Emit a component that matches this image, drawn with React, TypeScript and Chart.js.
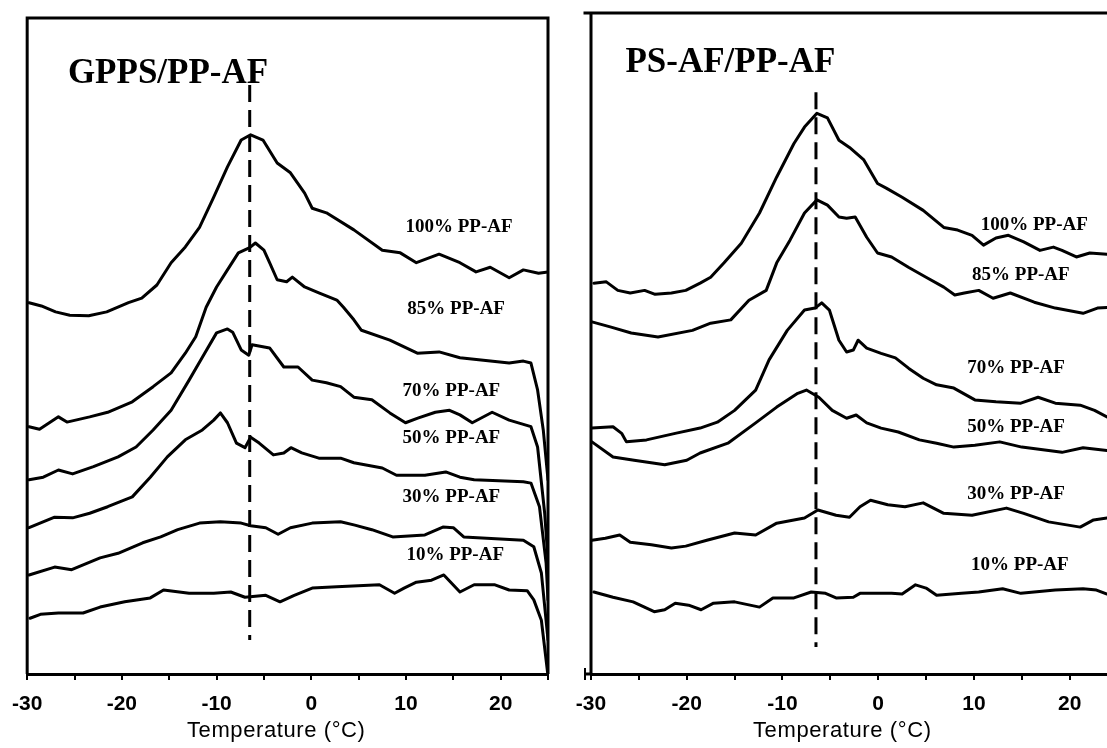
import React, { useEffect, useRef } from 'react';
import { Chart, registerables } from 'chart.js';

Chart.register(...registerables);

// ---------- Shared ----------
const seriesNames = ['100% PP-AF', '85% PP-AF', '70% PP-AF', '50% PP-AF', '30% PP-AF', '10% PP-AF'];
const xTickValues = [-30, -20, -10, 0, 10, 20];
const axisTitle = 'Temperature (°C)';
const markerT = -6.5; // dashed reference line (°C)

// ---------- Left panel: GPPS/PP-AF ----------
const gpps100T = [-29.8, -28.5, -27.0, -25.5, -23.5, -21.6, -19.3, -17.9, -16.3, -14.8, -13.3, -11.8, -10.3, -8.85, -7.4, -6.4, -5.1, -3.6, -2.2, -0.7, 0.1, 1.6, 4.5, 7.5, 9.4, 11.1, 13.5, 15.7, 17.4, 18.9, 20.9, 22.4, 24.0, 25.0];
const gpps100Y = [56.6, 56.1, 55.2, 54.7, 54.6, 55.2, 56.6, 57.3, 59.3, 62.7, 65.1, 68.1, 72.7, 77.3, 81.4, 82.2, 81.4, 77.9, 76.4, 73.3, 71.0, 70.3, 67.7, 64.6, 64.2, 62.7, 64.0, 62.7, 61.3, 62.0, 60.4, 61.6, 61.1, 61.3];

const gpps85T = [-29.8, -28.7, -26.7, -25.8, -23.4, -21.5, -18.9, -16.7, -14.8, -13.3, -12.2, -11.1, -10.0, -8.85, -7.7, -6.5, -5.9, -5.0, -4.4, -3.6, -2.6, -2.0, -0.7, 0.8, 2.7, 3.4, 4.5, 5.3, 8.3, 11.2, 13.5, 15.7, 20.9, 22.4, 23.2, 23.9, 24.5, 25.0];
const gpps85Y = [37.7, 37.3, 39.2, 38.4, 39.2, 39.9, 41.5, 43.8, 45.9, 48.9, 51.4, 55.9, 59.0, 61.6, 64.2, 65.0, 65.7, 64.6, 62.7, 60.1, 59.8, 60.5, 59.0, 58.1, 57.0, 55.9, 54.0, 52.4, 50.9, 48.9, 49.1, 48.2, 47.4, 47.7, 47.4, 43.3, 37.2, 29.6];

const gpps70T = [-29.8, -28.3, -26.7, -25.2, -23.0, -20.4, -18.5, -16.7, -14.8, -12.9, -11.5, -10.0, -8.85, -8.3, -7.4, -6.6, -6.25, -4.4, -2.9, -1.4, 0.1, 1.6, 3.1, 4.5, 6.4, 8.3, 9.95, 11.25, 13.1, 14.6, 15.7, 17.0, 19.1, 20.9, 23.2, 23.9, 24.65, 25.0];
const gpps70Y = [29.6, 30.0, 31.1, 30.5, 31.6, 33.1, 34.6, 37.2, 40.2, 44.8, 48.3, 52.0, 52.6, 52.1, 49.4, 48.6, 50.2, 49.7, 46.8, 46.8, 44.8, 44.4, 43.8, 42.2, 41.8, 39.8, 38.3, 39.0, 39.9, 40.2, 39.5, 38.3, 39.9, 38.7, 37.7, 34.6, 24.5, 17.4];

const gpps50T = [-29.8, -27.1, -25.2, -23.4, -21.5, -18.9, -17.0, -15.2, -13.3, -11.5, -10.3, -9.6, -8.85, -7.9, -7.0, -6.4, -5.5, -4.0, -2.9, -2.15, -1.0, 0.8, 3.1, 4.5, 7.5, 9.0, 12.0, 14.2, 15.7, 17.2, 22.4, 23.2, 24.1, 24.8, 25.0];
const gpps50Y = [22.3, 23.9, 23.8, 24.5, 25.5, 27.0, 30.0, 33.1, 35.7, 37.2, 38.7, 39.8, 38.3, 35.2, 34.5, 36.1, 35.2, 33.4, 33.7, 34.5, 33.7, 32.9, 32.9, 32.2, 31.4, 30.3, 30.3, 30.8, 30.0, 29.6, 29.3, 29.1, 25.5, 16.9, 11.3];

const gpps30T = [-29.8, -27.1, -25.3, -22.3, -20.4, -17.8, -15.9, -14.1, -11.8, -9.6, -7.4, -6.4, -4.8, -3.5, -2.2, 0.1, 3.1, 4.6, 6.4, 8.6, 12.0, 13.9, 15.0, 16.1, 22.4, 23.5, 24.3, 25.0];
const gpps30Y = [15.1, 16.3, 15.9, 17.7, 18.4, 20.0, 20.9, 22.0, 23.0, 23.2, 23.0, 22.6, 22.3, 21.3, 22.3, 23.0, 23.2, 22.7, 22.0, 20.9, 21.2, 22.4, 22.3, 20.9, 20.4, 19.4, 15.4, 5.2];

const gpps10T = [-29.7, -28.6, -26.7, -24.1, -22.3, -19.7, -17.0, -15.6, -12.9, -10.3, -8.5, -7.0, -4.8, -3.3, -1.8, 0.1, 2.7, 7.2, 8.8, 9.8, 11.1, 12.7, 14.0, 15.7, 17.2, 19.4, 20.9, 22.8, 23.5, 24.3, 24.95];
const gpps10Y = [8.5, 9.1, 9.3, 9.3, 10.2, 11.0, 11.6, 12.8, 12.3, 12.3, 12.5, 11.7, 12.0, 11.0, 12.0, 13.1, 13.3, 13.6, 12.3, 13.1, 14.0, 14.3, 15.1, 12.5, 13.6, 13.6, 12.8, 12.7, 11.3, 8.2, 0.3];

const gppsMarkerY = [89.8, 5.2];

// ---------- Right panel: PS-AF/PP-AF ----------
const ps100T = [-29.7, -28.4, -27.2, -25.9, -24.4, -23.3, -21.6, -20.1, -18.6, -17.5, -16.1, -14.3, -12.4, -10.6, -8.8, -7.7, -6.4, -5.3, -4.1, -3.0, -1.5, -0.07, 0.84, 2.5, 4.7, 6.85, 8.3, 9.8, 11.0, 12.3, 13.6, 15.2, 16.9, 18.3, 19.2, 20.7, 22.1, 23.9];
const ps100Y = [59.6, 59.8, 58.5, 58.1, 58.5, 57.9, 58.1, 58.5, 59.6, 60.5, 62.7, 65.7, 70.3, 75.8, 80.9, 83.4, 85.5, 84.8, 81.4, 80.3, 78.4, 74.8, 74.1, 72.7, 70.7, 68.1, 67.7, 66.9, 65.4, 66.5, 66.9, 65.9, 64.6, 65.1, 64.6, 63.6, 64.2, 64.0];

const ps85T = [-29.9, -27.9, -25.8, -23.0, -19.4, -17.5, -15.4, -13.5, -11.7, -10.6, -9.2, -7.7, -6.4, -5.3, -4.1, -3.3, -2.4, -1.2, -0.07, 1.4, 3.2, 5.0, 6.85, 8.0, 9.0, 10.5, 12.0, 13.8, 16.3, 18.5, 21.4, 22.9, 23.9];
const ps85Y = [53.7, 52.9, 52.0, 51.4, 52.4, 53.5, 54.0, 57.0, 58.5, 62.7, 66.2, 70.3, 72.3, 71.5, 69.7, 69.5, 69.7, 66.6, 64.2, 63.6, 62.0, 60.5, 59.0, 57.8, 58.1, 58.5, 57.3, 58.1, 56.7, 55.8, 55.0, 55.8, 55.9];

const ps70T = [-29.9, -27.7, -26.8, -26.3, -24.2, -21.2, -18.6, -16.8, -15.0, -12.8, -11.4, -9.5, -7.7, -6.6, -5.9, -5.1, -4.1, -3.3, -2.6, -2.1, -1.2, 0.3, 1.8, 3.2, 4.7, 6.1, 7.9, 10.1, 12.3, 14.9, 16.7, 18.5, 21.1, 22.6, 23.9];
const ps70Y = [37.5, 37.7, 36.7, 35.4, 35.7, 36.7, 37.5, 38.4, 40.2, 43.3, 47.9, 52.4, 55.5, 55.8, 56.6, 55.5, 50.9, 49.1, 49.4, 50.9, 49.7, 48.9, 48.2, 46.6, 45.1, 44.1, 43.6, 41.8, 41.5, 41.3, 42.2, 41.3, 41.0, 40.2, 39.2];

const ps50T = [-29.9, -27.7, -25.5, -22.3, -20.0, -18.6, -15.7, -12.8, -10.6, -8.4, -7.5, -6.2, -4.8, -3.3, -2.3, -1.2, 0.3, 2.1, 4.3, 6.1, 7.9, 10.1, 12.7, 15.0, 19.2, 21.4, 23.9];
const ps50Y = [35.4, 33.1, 32.6, 31.9, 32.6, 33.7, 35.2, 38.3, 40.7, 42.8, 43.3, 42.2, 40.2, 39.0, 39.5, 38.3, 37.5, 36.9, 35.7, 35.2, 34.6, 34.9, 35.4, 34.6, 33.8, 34.5, 34.1];

const ps30T = [-29.9, -28.5, -27.0, -25.9, -23.7, -21.6, -20.1, -17.9, -15.0, -12.8, -10.6, -7.7, -6.3, -4.4, -3.0, -1.9, -0.8, 1.0, 2.8, 4.7, 6.85, 9.8, 13.4, 15.2, 17.8, 21.1, 22.5, 23.9];
const ps30Y = [20.4, 20.7, 21.2, 20.1, 19.7, 19.2, 19.5, 20.4, 21.5, 21.2, 23.0, 23.8, 25.0, 24.2, 23.9, 25.5, 26.5, 25.8, 25.5, 26.1, 24.5, 24.2, 25.3, 24.5, 23.2, 22.4, 23.5, 23.8];

const ps10T = [-29.7, -27.7, -25.6, -23.4, -22.3, -21.2, -19.8, -18.5, -17.2, -15.0, -12.4, -11.0, -8.8, -7.0, -5.5, -4.4, -2.6, -1.9, 1.4, 2.5, 3.9, 5.0, 6.1, 8.7, 10.5, 13.0, 14.9, 18.5, 21.4, 22.8, 23.9];
const ps10Y = [12.5, 11.7, 11.0, 9.5, 9.8, 10.8, 10.5, 9.8, 10.8, 11.0, 10.2, 11.6, 11.6, 12.5, 12.3, 11.6, 11.7, 12.3, 12.3, 12.2, 13.6, 13.1, 12.0, 12.3, 12.5, 13.0, 12.3, 12.8, 13.0, 12.8, 12.2];

const psMarkerY = [88.7, 4.1];

// ---------- Panel configuration (layout / annotation placement) ----------
const leftPanel = {
  title: 'GPPS/PP-AF',
  titleAt: { x: -25.7, y: 90.1 },
  series: [
    [gpps100T, gpps100Y], [gpps85T, gpps85Y], [gpps70T, gpps70Y],
    [gpps50T, gpps50Y], [gpps30T, gpps30Y], [gpps10T, gpps10Y],
  ],
  markerY: gppsMarkerY,
  labelX: [15.6, 15.3, 14.8, 14.8, 14.8, 15.2],
  labelY: [68.1, 55.6, 43.1, 36.0, 27.0, 18.1],
  xMax: 25,
  yMax: 100,
  width: 560,
  left: 0,
  pad: { left: 27, top: 18, right: 7 },
  rightBorder: true,
  overhang: 0,
  axisTitleX: -3.7,
};

const rightPanel = {
  title: 'PS-AF/PP-AF',
  titleAt: { x: -26.4, y: 91.8 },
  series: [
    [ps100T, ps100Y], [ps85T, ps85Y], [ps70T, ps70Y],
    [ps50T, ps50Y], [ps30T, ps30Y], [ps10T, ps10Y],
  ],
  markerY: psMarkerY,
  labelX: [16.3, 14.9, 14.4, 14.4, 14.4, 14.8],
  labelY: [68.4, 60.8, 46.6, 37.7, 27.4, 16.6],
  xMax: 23.9,
  yMax: 100.8,
  width: 547,
  left: 560,
  pad: { left: 31, top: 13, right: 0 },
  rightBorder: false,
  overhang: 6,
  axisTitleX: -3.75,
};

const CANVAS_H = 748;
const AXIS_BAND = 74;

const decor = {
  id: 'panelDecor',
  afterDraw(chart: any, _args: any, opts: any) {
    const { ctx, chartArea: a, scales } = chart;
    const sx = scales.x;
    const sy = scales.y;
    ctx.save();
    ctx.strokeStyle = '#000';
    ctx.lineWidth = 3;
    ctx.lineCap = 'butt';
    ctx.beginPath();
    ctx.moveTo(a.left - opts.overhang - 1.5, a.top);
    ctx.lineTo(a.right + (opts.rightBorder ? 1.5 : 0), a.top);
    ctx.moveTo(a.left, a.top - 1.5);
    ctx.lineTo(a.left, a.bottom);
    if (opts.rightBorder) {
      ctx.moveTo(a.right, a.top - 1.5);
      ctx.lineTo(a.right, a.bottom);
    }
    if (opts.overhang > 0) {
      ctx.moveTo(a.left - opts.overhang, a.bottom);
      ctx.lineTo(a.left, a.bottom);
    }
    ctx.stroke();
    if (opts.overhang > 0) {
      ctx.lineWidth = 2;
      ctx.beginPath();
      ctx.moveTo(a.left - opts.overhang, a.bottom - 6);
      ctx.lineTo(a.left - opts.overhang, a.bottom + 6);
      ctx.stroke();
    }

    ctx.fillStyle = '#000';
    ctx.font = 'bold 35px "Liberation Serif", "Times New Roman", serif';
    ctx.textAlign = 'left';
    ctx.textBaseline = 'alphabetic';
    ctx.fillText(opts.title, sx.getPixelForValue(opts.titleAt.x), sy.getPixelForValue(opts.titleAt.y));

    ctx.font = 'bold 19px "Liberation Serif", "Times New Roman", serif';
    ctx.textAlign = 'center';
    ctx.textBaseline = 'middle';
    opts.names.forEach((n: string, i: number) => {
      ctx.fillText(n, sx.getPixelForValue(opts.labelX[i]), sy.getPixelForValue(opts.labelY[i]));
    });

    ctx.font = '22px "Liberation Sans", Arial, sans-serif';
    (ctx as any).letterSpacing = '0.6px';
    ctx.textAlign = 'center';
    ctx.textBaseline = 'middle';
    ctx.fillText(axisTitle, sx.getPixelForValue(opts.axisTitleX), a.bottom + 57);
    ctx.restore();
  },
};

function buildConfig(p: any): any {
  const datasets: any[] = p.series.map((s: number[][], k: number) => ({
    label: seriesNames[k],
    data: s[0].map((t: number, i: number) => ({ x: t, y: s[1][i] })),
    borderColor: '#000',
    borderWidth: 3,
    pointRadius: 0,
    tension: 0,
    fill: false,
    borderJoinStyle: 'round',
    borderCapStyle: 'round',
  }));
  datasets.push({
    label: 'marker',
    data: p.markerY.map((v: number) => ({ x: markerT, y: v })),
    borderColor: '#000',
    borderWidth: 3,
    borderDash: [17, 8],
    pointRadius: 0,
    fill: false,
  });
  return {
    type: 'line',
    data: { datasets },
    options: {
      responsive: false,
      animation: false,
      events: [],
      layout: { padding: { left: p.pad.left, top: p.pad.top, right: p.pad.right, bottom: 0 } },
      plugins: {
        legend: { display: false },
        tooltip: { enabled: false },
        panelDecor: {
          title: p.title,
          titleAt: p.titleAt,
          names: seriesNames,
          labelX: p.labelX,
          labelY: p.labelY,
          rightBorder: p.rightBorder,
          overhang: p.overhang,
          axisTitleX: p.axisTitleX,
        },
      },
      scales: {
        x: {
          type: 'linear',
          min: -30,
          max: p.xMax,
          afterBuildTicks: (s: any) => {
            s.ticks = s.ticks.filter((t: any) => Math.abs(t.value / 5 - Math.round(t.value / 5)) < 1e-6);
          },
          afterFit: (s: any) => {
            s.height = AXIS_BAND;
          },
          ticks: {
            stepSize: 5,
            includeBounds: false,
            autoSkip: false,
            maxRotation: 0,
            minRotation: 0,
            padding: 12,
            color: '#000',
            font: { family: '"Liberation Sans", Arial, sans-serif', size: 21, weight: 'bold' },
            callback: (v: any) => (xTickValues.includes(Number(v)) ? String(v) : ''),
          },
          grid: { drawOnChartArea: false, drawTicks: true, tickLength: 6, color: '#000', lineWidth: 2 },
          border: { display: true, color: '#000', width: 3 },
        },
        y: { type: 'linear', display: false, min: 0, max: p.yMax },
      },
    },
    plugins: [decor],
  };
}

function Panel({ cfg }: { cfg: any }) {
  const ref = useRef<HTMLCanvasElement | null>(null);
  useEffect(() => {
    if (!ref.current) return;
    const chart = new Chart(ref.current, buildConfig(cfg));
    return () => chart.destroy();
  }, [cfg]);
  return (
    <canvas
      ref={ref}
      width={cfg.width}
      height={CANVAS_H}
      style={{ position: 'absolute', left: cfg.left, top: 0, width: cfg.width, height: CANVAS_H }}
    />
  );
}

export default function App() {
  return (
    <div
      style={{
        position: 'absolute',
        left: 0,
        top: 0,
        width: 1107,
        height: CANVAS_H,
        background: '#fff',
        overflow: 'hidden',
      }}
    >
      <Panel cfg={leftPanel} />
      <Panel cfg={rightPanel} />
    </div>
  );
}
